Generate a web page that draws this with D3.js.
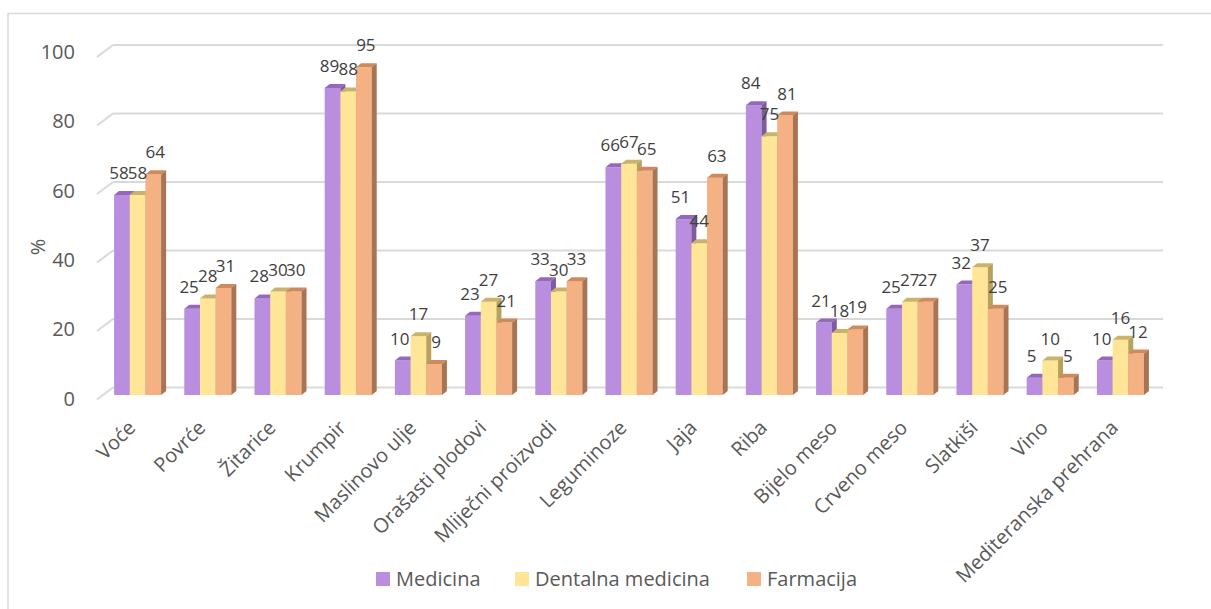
<!DOCTYPE html>
<html>
<head>
<meta charset="utf-8">
<script src="https://cdn.jsdelivr.net/npm/d3@7"></script>
<style>
  body { margin: 0; background: #fff; }
  text { font-family: "Open Sans", sans-serif; }
</style>
</head>
<body>
<div id="chart"></div>
<script>
// chart data
let categories = ["Voće", "Povrće", "Žitarice", "Krumpir", "Maslinovo ulje", "Orašasti plodovi",
    "Mliječni proizvodi", "Leguminoze", "Jaja", "Riba", "Bijelo meso", "Crveno meso",
    "Slatkiši", "Vino", "Mediteranska prehrana"];
let seriesNames = ["Medicina", "Dentalna medicina", "Farmacija"];
let medicina  = [58, 25, 28, 89, 10, 23, 33, 66, 51, 84, 21, 25, 32, 5, 10];
let dentalna  = [58, 28, 30, 88, 17, 27, 30, 67, 44, 75, 18, 27, 37, 10, 16];
let farmacija = [64, 31, 30, 95, 9, 21, 33, 65, 63, 81, 19, 27, 25, 5, 12];
let yTicks = [0, 20, 40, 60, 80, 100];

let width = 1211,
    height = 609;
// front face / top / side colours per series
let colors = [
    {front: "#B98EDF", top: "#9468BC", side: "#7E5A9E"},
    {front: "#FFE597", top: "#C9B36A", side: "#B7A25C"},
    {front: "#F4B183", top: "#CF8A5C", side: "#A97452"}
];
let depthX = 5, depthY = -4;
// small horizontal shift of data labels per series (3D label placement)
let labelShift = [-3, 0, 2];

let svg = d3.select("#chart").append("svg")
    .attr("width", width)
    .attr("height", height);

// chart border (only top and left visible)
svg.append("rect")
    .attr("x", 8).attr("y", 13.5)
    .attr("width", 1260).attr("height", 700)
    .attr("fill", "none")
    .attr("stroke", "#D9D9D9")
    .attr("stroke-width", 1.5);

// scales
let x = d3.scaleBand()
    .domain(categories)
    .range([102.5, 1155.5])
    .paddingInner(0.33)
    .paddingOuter(0.165);
let xs = d3.scaleBand()
    .domain(seriesNames)
    .range([0, x.bandwidth()]);
let yBar = d3.scaleLinear().domain([0, 100]).range([395, 50]);
let yGrid = d3.scaleLinear().domain([0, 100]).range([387.5, 45]);
let yLabel = d3.scaleLinear().domain([0, 100]).range([398.5, 52]);

//gridlines on back wall with slanted floor ticks
let grid = svg.append("g");
grid.selectAll("line.grid")
    .data(yTicks)
    .enter().append("line")
    .attr("x1", 113).attr("x2", 1163)
    .attr("y1", d => yGrid(d)).attr("y2", d => yGrid(d))
    .attr("stroke", "#D9D9D9")
    .attr("stroke-width", 2);
grid.selectAll("line.slant")
    .data(yTicks)
    .enter().append("line")
    .attr("x1", 97).attr("x2", 113)
    .attr("y1", d => yGrid(d) + 12).attr("y2", d => yGrid(d))
    .attr("stroke", "#D9D9D9")
    .attr("stroke-width", 2);

// y tick labels
svg.append("g").selectAll("text")
    .data(yTicks)
    .enter().append("text")
    .attr("x", 75)
    .attr("y", d => yLabel(d))
    .attr("dy", "0.35em")
    .attr("text-anchor", "end")
    .attr("font-size", 20)
    .attr("fill", "#595959")
    .text(d => d);

// y axis title
svg.append("text")
    .attr("transform", "translate(45,247) rotate(-90)")
    .attr("text-anchor", "middle")
    .attr("font-size", 20)
    .attr("fill", "#595959")
    .text("%");

// bars
let allSeries = [medicina, dentalna, farmacija];
let barData = [];
categories.forEach((c, i) => {
    allSeries.forEach((s, j) => {
        barData.push({cat: c, series: seriesNames[j], idx: j, value: s[i]});
    });
});

let bars = svg.append("g").selectAll("g")
    .data(barData)
    .enter().append("g");

bars.each(function(d) {
    let g = d3.select(this);
    let x0 = x(d.cat) + xs(d.series),
        w = xs.bandwidth(),
        y0 = yBar(d.value),
        yb = yBar(0);
    let c = colors[d.idx];
    g.append("rect")
        .attr("x", x0).attr("y", y0)
        .attr("width", w).attr("height", yb - y0)
        .attr("fill", c.front);
    g.append("path")
        .attr("d", `M${x0},${y0}L${x0 + w},${y0}L${x0 + w + depthX},${y0 + depthY}L${x0 + depthX},${y0 + depthY}Z`)
        .attr("fill", c.top);
    g.append("path")
        .attr("d", `M${x0 + w},${y0}L${x0 + w + depthX},${y0 + depthY}L${x0 + w + depthX},${yb + depthY}L${x0 + w},${yb}Z`)
        .attr("fill", c.side);
});

// data labels
svg.append("g").selectAll("text")
    .data(barData)
    .enter().append("text")
    .attr("x", d => x(d.cat) + xs(d.series) + xs.bandwidth() / 2 + labelShift[d.idx])
    .attr("y", d => yBar(d.value) - 16)
    .attr("text-anchor", "middle")
    .attr("font-size", 17)
    .attr("fill", "#404040")
    .text(d => d.value);

// category labels
svg.append("g").selectAll("text")
    .data(categories)
    .enter().append("text")
    .attr("transform", d => `translate(${x(d) + x.bandwidth() / 2 - 1},${429}) rotate(-45)`)
    .attr("text-anchor", "end")
    .attr("font-size", 20)
    .attr("fill", "#595959")
    .text(d => d);

// legend
let legendX = [376, 515, 747];
let legend = svg.append("g").selectAll("g")
    .data(seriesNames)
    .enter().append("g")
    .attr("transform", (d, i) => `translate(${legendX[i]},572)`);
legend.append("rect")
    .attr("width", 14).attr("height", 14)
    .attr("fill", (d, i) => colors[i].front);
legend.append("text")
    .attr("x", 20)
    .attr("y", 7)
    .attr("dy", "0.35em")
    .attr("font-size", 20)
    .attr("fill", "#595959")
    .text(d => d);
</script>
</body>
</html>
